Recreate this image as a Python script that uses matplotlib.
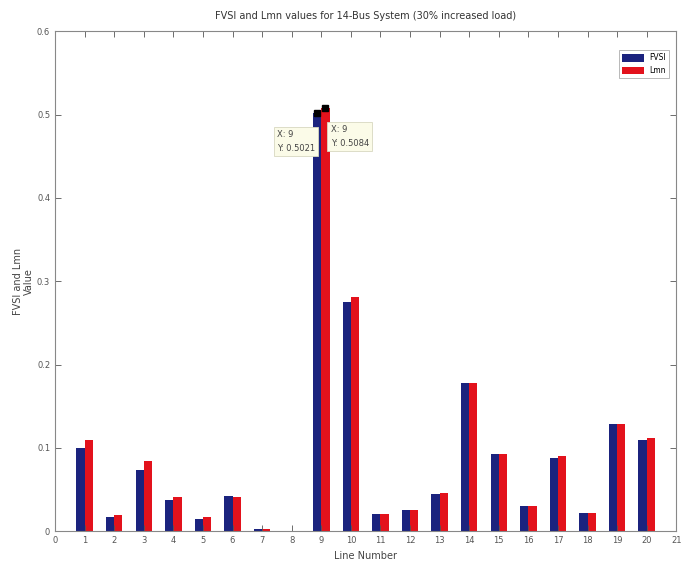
import numpy as np
import matplotlib.pyplot as plt

# line numbers and index values per line
lines = np.arange(1, 21)
fvsi = [0.100, 0.0175, 0.074, 0.038, 0.015, 0.0425, 0.003, 0.0, 0.5021, 0.275,
        0.021, 0.025, 0.045, 0.178, 0.093, 0.030, 0.088, 0.022, 0.129, 0.1095]
lmn = [0.110, 0.020, 0.084, 0.041, 0.0165, 0.0405, 0.003, 0.0, 0.5084, 0.281,
       0.021, 0.025, 0.046, 0.178, 0.093, 0.030, 0.090, 0.022, 0.129, 0.112]

plt.rcParams['font.family'] = 'DejaVu Sans'

fig = plt.figure(figsize=(6.88, 5.70), dpi=100)
ax = fig.add_axes([0.080, 0.068, 0.903, 0.877])

w = 0.28
ax.bar(lines - w / 2, fvsi, w, color='#1b237e', label='FVSI')
ax.bar(lines + w / 2, lmn, w, color='#e3121c', label='Lmn')

# data tips on line 9
ax.plot(9 - w / 2, fvsi[8], 's', color='black', ms=4)
ax.plot(9 + w / 2, lmn[8], 's', color='black', ms=4)
tip = dict(boxstyle='square,pad=0.4', fc='#fbfbe8', ec='#d8d8c0', lw=0.6)
ax.text(7.5, 0.454, f"X: 9\nY: {fvsi[8]:.4f}", fontsize=6, color='#444444',
        bbox=tip, va='bottom', ha='left', linespacing=1.7)
ax.text(9.32, 0.460, f"X: 9\nY: {lmn[8]:.4f}", fontsize=6, color='#444444',
        bbox=tip, va='bottom', ha='left', linespacing=1.7)

ax.set_xlim(0, 21)
ax.set_ylim(0, 0.6)
ax.set_xticks(range(0, 22))
ax.set_yticks(np.arange(0, 0.61, 0.1))
ax.set_yticklabels(['0', '0.1', '0.2', '0.3', '0.4', '0.5', '0.6'])
ax.tick_params(direction='in', top=True, right=True, labelsize=6,
               colors='#555555', length=4, width=0.6)
for s in ax.spines.values():
    s.set_color('#888888')
    s.set_linewidth(0.8)

ax.set_title('FVSI and Lmn values for 14-Bus System (30% increased load)',
             fontsize=7, color='#333333', pad=9)
ax.set_xlabel('Line Number', fontsize=7, color='#444444', labelpad=4)
ax.set_ylabel('FVSI and Lmn\nValue', fontsize=7, color='#444444', labelpad=2)

leg = ax.legend(loc='upper right', fontsize=5.5, frameon=True, fancybox=False,
                handlelength=2.8, handleheight=1.2, borderpad=0.4,
                bbox_to_anchor=(0.995, 0.97))
leg.get_frame().set_edgecolor('#999999')
leg.get_frame().set_linewidth(0.6)

fig.savefig('out.png', dpi=100)
